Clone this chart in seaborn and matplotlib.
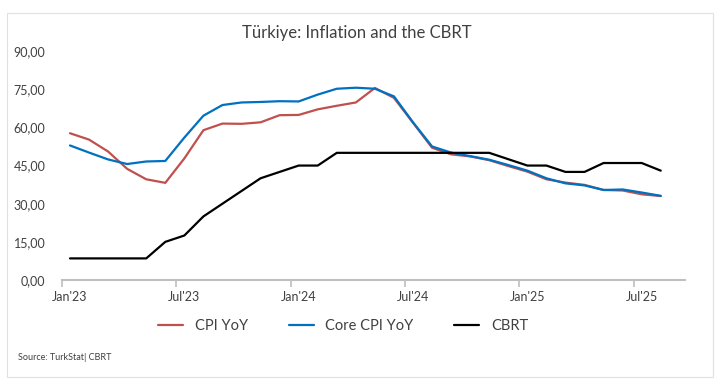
import pandas as pd
import matplotlib.pyplot as plt
import matplotlib.patches as patches
import seaborn as sns

sns.set_theme(style="white")
plt.rcParams['font.family'] = ['Lato', 'DejaVu Sans']

# monthly data, Jan'23 - Aug'25
months = pd.date_range("2023-01-01", periods=32, freq="MS")
cpi = [57.7, 55.2, 50.5, 43.7, 39.6, 38.2, 47.8, 58.9, 61.5, 61.4, 62.0, 64.8,
       64.9, 67.1, 68.5, 69.8, 75.5, 71.6, 61.8, 52.0, 49.4, 48.6, 47.1, 44.8,
       42.6, 39.6, 38.3, 37.4, 35.4, 35.2, 33.7, 33.0]
core = [52.9, 50.1, 47.4, 45.6, 46.6, 46.8, 56.0, 64.6, 68.8, 69.8, 70.0, 70.3,
        70.2, 72.9, 75.2, 75.6, 75.2, 72.2, 62.0, 52.5, 50.1, 48.7, 47.3, 45.2,
        43.0, 40.0, 38.0, 37.2, 35.4, 35.6, 34.4, 33.1]
cbrt = [8.5, 8.5, 8.5, 8.5, 8.5, 15, 17.5, 25, 30, 35, 40, 42.5,
        45, 45, 50, 50, 50, 50, 50, 50, 50, 50, 50, 47.5,
        45, 45, 42.5, 42.5, 46, 46, 46, 43]
series_names = ["CPI YoY", "Core CPI YoY", "CBRT"]
colors = ["#C0504D", "#0070C0", "#000000"]

idx = list(range(len(months)))
df = pd.concat([
    pd.DataFrame({"m": idx, "val": cpi, "series": series_names[0]}),
    pd.DataFrame({"m": idx, "val": core, "series": series_names[1]}),
    pd.DataFrame({"m": idx, "val": cbrt, "series": series_names[2]}),
])

fig = plt.figure(figsize=(7.21, 3.9), dpi=100)
ax = fig.add_axes([0.086, 0.282, 0.864, 0.587])

sns.lineplot(data=df, x="m", y="val", hue="series", palette=colors,
             hue_order=series_names, lw=1.6, ax=ax, legend=True)

ax.set_xlim(-0.42, 32.27)
ax.set_ylim(0, 90)
ax.set_yticks(range(0, 91, 15))
ax.set_yticklabels([f"{v:.2f}".replace(".", ",") for v in range(0, 91, 15)],
                   fontsize=9, color="#404040")
ax.set_xlabel("")
ax.set_ylabel("")

# tick marks at category edges, labels at the category
tick_pos = [i - 0.42 for i in range(0, 32, 6)]
ax.set_xticks(tick_pos)
ax.set_xticklabels([""] * len(tick_pos))
ax.tick_params(axis="x", which="major", length=5, width=1.2, color="#BFBFBF", bottom=True)
lab_pos = list(range(0, 32, 6))
ax.set_xticks(lab_pos, minor=True)
ax.set_xticklabels([months[i].strftime("%b'%y") for i in lab_pos], minor=True,
                   fontsize=9, color="#404040")
ax.tick_params(axis="x", which="minor", length=0, pad=8)
ax.tick_params(axis="y", length=0, pad=12)

for s in ["top", "right", "left"]:
    ax.spines[s].set_visible(False)
ax.spines["bottom"].set_color("#BFBFBF")
ax.spines["bottom"].set_linewidth(1.5)

handles, labels = ax.get_legend_handles_labels()
ax.legend(handles, labels, loc="center", bbox_to_anchor=(0.476, 0.163),
          bbox_transform=fig.transFigure, ncol=3, frameon=False, fontsize=10.5,
          handlelength=1.7, handletextpad=0.8, columnspacing=2.8, labelcolor="#404040")

fig.text(0.495, 0.915, "Türkiye: Inflation and the CBRT", ha="center", va="center",
         fontsize=12, color="#404040")
fig.text(0.025, 0.083, "Source: TurkStat| CBRT", ha="left", va="center",
         fontsize=6.5, color="#404040")

fig.patches.append(patches.Rectangle((0.0097, 0.033), 0.979, 0.934, transform=fig.transFigure,
                                     fill=False, edgecolor="#E0E0E0", lw=0.8))

plt.savefig("out.png", dpi=100)
